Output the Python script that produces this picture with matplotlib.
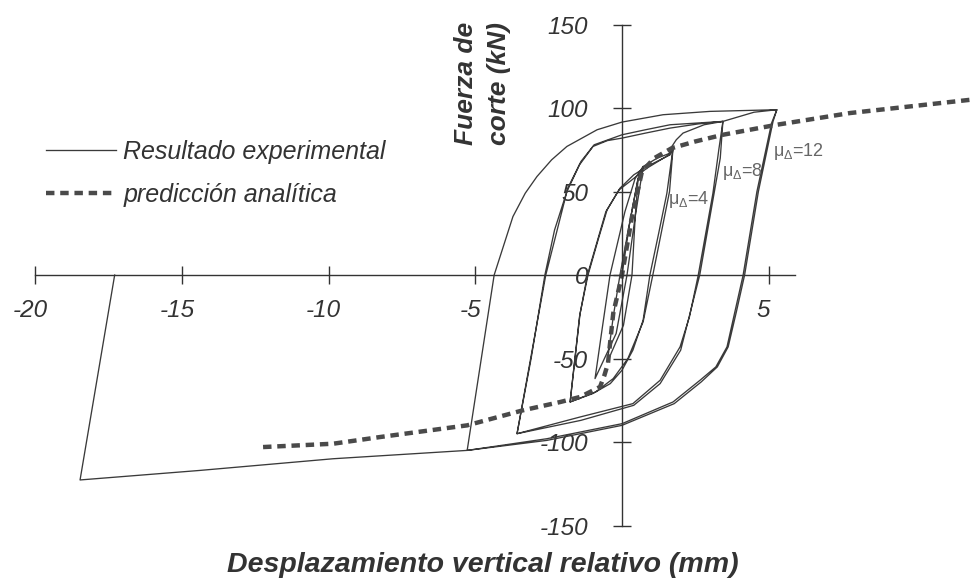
import numpy as np
import matplotlib
matplotlib.use('Agg')
import matplotlib.pyplot as plt
import matplotlib.transforms as mtransforms

plt.rcParams['font.family'] = ['Liberation Sans', 'DejaVu Sans']
plt.rcParams['mathtext.fontset'] = 'custom'
plt.rcParams['mathtext.rm'] = 'Liberation Sans'
plt.rcParams['mathtext.it'] = 'Liberation Sans:italic'
plt.rcParams['axes.unicode_minus'] = False

# --- experimental hysteresis, branch by branch (mm, kN) ---
mu1_x = [0.0, 0.25, 0.55, 0.45, 0.34, 0.05, -0.5, -0.3, -0.07, 0.3, 0.55]
mu1_y = [0, 30, 58, 35, 0, -30, -52, -25, 0, 35, 58]

mu2_x = [0.72, 0.45, 0.17, -0.2, -0.92, -0.7, -0.41, 0.1, 0.45, 0.72]
mu2_y = [65, 35, 0, -35, -62, -35, 0, 38, 58, 65]

mu4_x = [1.2, 1.64, 1.74, 1.53, 1.25, 0.95, 0.72, 0.37, 0.0, -0.4, -1.0, -1.77,
         -1.43, -1.16, -0.8, -0.51, -0.07, 0.4, 0.85, 1.3, 1.64, 1.74,
         1.62, 1.05, 0.72, 0.2, -0.3, -0.9, -1.77,
         -1.45, -1.18, -0.55, -0.1, 0.85, 1.6, 1.7]
mu4_y = [70, 73, 76, 49, 25, 0, -27, -45, -57, -65, -71, -76,
         -23, 0, 22, 39, 52, 60, 65, 69, 72, 76,
         50, 0, -28, -50, -62, -70, -76,
         -25, 0, 38, 51, 64, 72, 77]

mu8_x = [1.85, 2.08, 2.8, 3.44, 3.3, 3.1, 2.6, 2.3, 1.98, 1.3, 0.37, -1.43, -3.58,
         -3.1, -2.63, -2.3, -1.88, -1.45, -0.99, -0.5, 0.0, 0.8, 1.64, 2.6, 3.44,
         3.35, 2.65, 2.0, 1.3, 0.4, -1.4, -3.58,
         -2.6, -1.85, -1.4, -0.95, 0.0, 0.8, 1.64, 3.44]
mu8_y = [81, 85, 90, 92, 75, 49, 0, -25, -43, -63, -77, -85, -95,
         -50, 0, 27, 50, 66, 77, 80.5, 82, 85, 88, 90.5, 92,
         70, 0, -45, -65, -78, -87, -95,
         0, 52, 68, 78, 84, 87, 90, 92]

mu12_x = [4.5, 5.28, 5.1, 4.6, 4.13, 3.85, 3.58, 3.2, 2.66, 1.74, 0.0, -2.56, -5.28,
          -4.36, -3.72, -3.3, -2.9, -2.4, -1.88, -0.85, 0.0, 1.4, 3.0, 5.28]
mu12_y = [97.5, 99, 91, 50, 0, -22, -43, -55, -63, -76, -89, -98, -105,
          0, 35, 49, 59, 69, 77, 87, 91.6, 96, 98, 99]

final_x = [5.15, 4.65, 4.18, 3.9, 3.62, 3.25, 2.7, 1.78, 0.0, -2.56, -5.28,
           -9.85, -14.4, -18.48, -17.3]
final_y = [92, 50, 0, -22, -43, -55, -64, -77, -90, -99, -105,
           -110, -117, -122.7, 0]

# --- analytical prediction ---
pred_x = [-12.24, -9.85, -8.25, -5.28, -3.38, -2.1, -1.43, -0.75, -0.6, -0.48, -0.3,
          0.0, 0.34, 0.68, 1.1, 1.7, 2.5, 3.44, 5.28, 7.77, 11.9]
pred_y = [-103, -101, -97, -90, -81, -76, -73, -67, -60, -53, -23,
          0, 35, 62, 70, 76, 80, 84, 90, 97, 105]

x_ticks = [-20, -15, -10, -5, 5]
y_ticks = [-150, -100, -50, 0, 50, 100, 150]

exp_x = mu1_x + mu2_x + mu4_x + mu8_x + mu12_x + final_x
exp_y = mu1_y + mu2_y + mu4_y + mu8_y + mu12_y + final_y

fig = plt.figure(figsize=(9.71, 5.85), dpi=100)
ax = fig.add_axes([0, 0, 1, 1])
ax.set_xlim(-21.21, 11.90)
ax.set_ylim(-185.6, 164.7)

l_exp, = ax.plot(exp_x, exp_y, color='#3a3a3a', lw=0.95, solid_joinstyle='round')
l_pred, = ax.plot(pred_x, pred_y, color='#4a4a4a', lw=3.2, linestyle=(0, (1.9, 1.3)),
                  dash_capstyle='butt')

# axes through the origin
for s in ['top', 'right']:
    ax.spines[s].set_visible(False)
ax.spines['left'].set_position(('data', 0))
ax.spines['bottom'].set_position(('data', 0))
ax.spines['left'].set_bounds(-150, 150)
ax.spines['bottom'].set_bounds(-20, 5.9)
for s in ['left', 'bottom']:
    ax.spines[s].set_color('#333333')
    ax.spines[s].set_linewidth(1.0)

ax.set_xticks(x_ticks)
ax.set_yticks(y_ticks)
ax.tick_params(direction='inout', length=13, width=1.0, color='#333333',
               labelsize=17.5, labelcolor='#333333')
ax.tick_params(axis='x', pad=11)
ax.tick_params(axis='y', pad=18)
for lab in ax.get_xticklabels() + ax.get_yticklabels():
    lab.set_fontstyle('italic')
shift = mtransforms.ScaledTranslation(-5 / 100, 0, fig.dpi_scale_trans)
for lab in ax.get_xticklabels():
    lab.set_transform(lab.get_transform() + shift)

# axis titles
ax.text(0.497, 0.034, 'Desplazamiento vertical relativo (mm)', transform=ax.transAxes,
        ha='center', va='center', fontsize=20.5, fontweight='bold', fontstyle='italic',
        color='#333333')
ax.text(0.497, 0.857, 'Fuerza de\ncorte (kN)', transform=ax.transAxes, rotation=90,
        ha='center', va='center', multialignment='left', linespacing=1.45,
        fontsize=19, fontweight='bold', fontstyle='italic', color='#333333')

# ductility labels
ax.text(1.57, 45, r'μ$_{\Delta}$=4', fontsize=13, color='#666666', va='center')
ax.text(3.41, 62, r'μ$_{\Delta}$=8', fontsize=13, color='#666666', va='center')
ax.text(5.15, 74, r'μ$_{\Delta}$=12', fontsize=13, color='#666666', va='center')

leg = ax.legend([l_exp, l_pred], ['Resultado experimental', 'predicción analítica'],
                loc='upper left', bbox_to_anchor=(0.024, 0.799), frameon=False,
                handlelength=2.8, handletextpad=0.3, labelspacing=0.75,
                prop={'style': 'italic', 'size': 18})
for t in leg.get_texts():
    t.set_color('#333333')

fig.savefig('out.png', dpi=100)
